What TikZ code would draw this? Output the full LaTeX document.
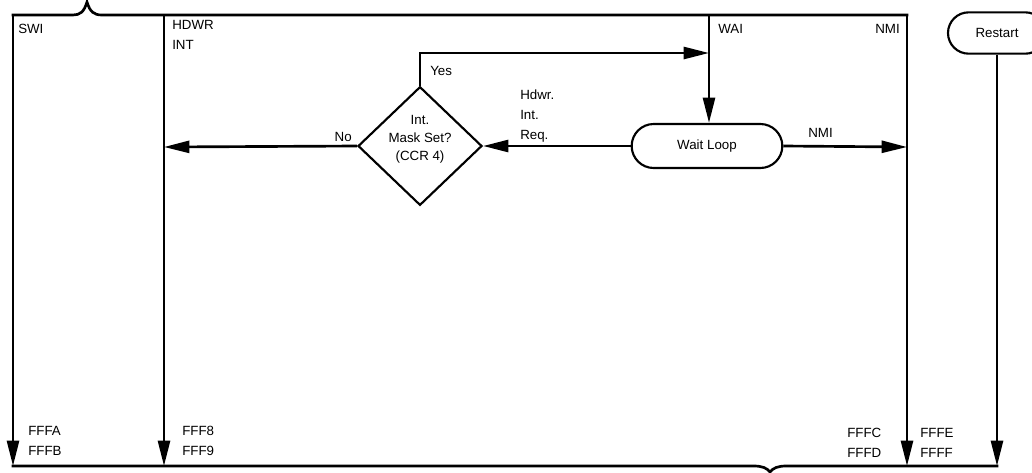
\documentclass[tikz,border=0pt]{standalone}
\usepackage{fontspec}
\setmainfont{Liberation Sans}
\usetikzlibrary{shapes.geometric,shapes.misc,arrows.meta}
\begin{document}
\begin{tikzpicture}[x=0.75pt,y=-0.75pt,
  line/.style={line width=2pt},
  arr/.style={line width=2pt,-{Triangle[length=19pt,width=9pt]}},
  lbl/.style={font=\fontsize{10}{14.5}\selectfont, inner sep=0pt, align=left},
  term/.style={rounded rectangle, draw, line width=1.6pt, inner sep=0pt, font=\fontsize{10}{12}\selectfont},
  decision/.style={diamond, draw, line width=1.6pt, inner sep=0pt}
]
\useasboundingbox (0,0) rectangle (1032,472);
% coordinates
\coordinate (swiT) at (13,15);
\coordinate (swiB) at (13,466);
\coordinate (hdT) at (164,15);
\coordinate (hdB) at (164,466);
\coordinate (waT) at (709,15);
\coordinate (nmT) at (907,15);
\coordinate (nmB) at (907,466);
\coordinate (rsB) at (997,466);
\coordinate (tb1) at (73,15);
\coordinate (tbtip) at (87,2);
\coordinate (tb2) at (102,15);
\coordinate (bb1) at (754,466);
\coordinate (bbtip) at (770,472);
\coordinate (bb2) at (786,466);
\coordinate (yesEnd) at (709,53);
\coordinate (noEnd) at (164,147);
\coordinate (nmiEnd) at (907,147);
% nodes
\node[term, minimum width=113pt, minimum height=33pt] (wait) at (707,146) {Wait Loop};
\node[term, minimum width=73.5pt, minimum height=31pt] (restart) at (997,33) {Restart};
\node[decision, minimum width=93pt, minimum height=89pt] (dia) at (420,146) {};
\node[lbl, align=center, font=\fontsize{10}{13.5}\selectfont] (diatext) at (420,139) {Int.\\Mask Set?\\(CCR 4)};
% frame lines
\draw[line, line cap=rect] (swiT) -- (tb1) .. controls (80,15) and (84,12) .. (tbtip) .. controls (90,12) and (94,15) .. (tb2) -- (nmT);
\draw[line, line cap=rect] (swiB) -- (bb1) .. controls (762,466) and (767,468) .. (bbtip) .. controls (773,468) and (778,466) .. (bb2) -- (rsB);
% verticals
\draw[arr] (swiT) -- (swiB);
\draw[arr] (hdT) -- (hdB);
\draw[arr] (nmT) -- (nmB);
\draw[arr] (waT) -- (wait.north -| waT);
\draw[arr] (restart.south -| rsB) -- (rsB);
% horizontals
\draw[arr] (dia.north) |- (yesEnd);
\draw[arr] (dia.west) -- (noEnd);
\draw[arr] (wait.west) -- (dia.east);
\draw[arr] (wait.east) -- (nmiEnd);
% labels
\node[lbl, anchor=base west] (lswi) at (18,33) {SWI};
\node[lbl, anchor=base west] (lhd) at (172,49) {HDWR\\INT};
\node[lbl, anchor=base west] (lwai) at (718,33) {WAI};
\node[lbl, anchor=base east] (lnmi) at (900,33) {NMI};
\node[lbl, anchor=base west] (lyes) at (430,75) {Yes};
\node[lbl, anchor=base east] (lno) at (352,141) {No};
\node[lbl, anchor=base west, font=\fontsize{10}{15}\selectfont] (lreq) at (520,139) {Hdwr.\\Int.\\Req.};
\node[lbl, anchor=base west] (lnmi2) at (808,137) {NMI};
\node[lbl, anchor=base west] (la) at (28,455) {FFFA\\FFFB};
\node[lbl, anchor=base west] (lb) at (182,455) {FFF8\\FFF9};
\node[lbl, anchor=base west] (lc) at (847,457) {FFFC\\FFFD};
\node[lbl, anchor=base west] (ld) at (920,457) {FFFE\\FFFF};
\end{tikzpicture}
\end{document}
